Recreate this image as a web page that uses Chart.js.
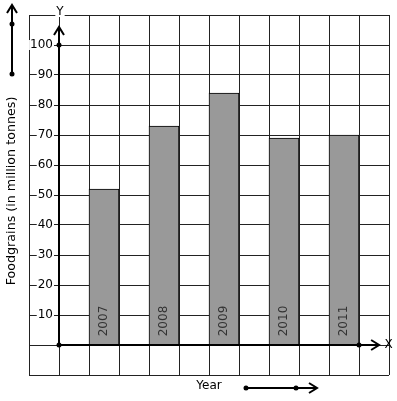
<html>
<head>
	<meta charset="utf-8">
	<script src="https://cdn.jsdelivr.net/npm/chart.js@4/dist/chart.umd.min.js"></script>
	<title>Foodgrains</title>
	<style>
		body { margin: 0; background: #fff; }
		canvas { display: block; }
	</style>
</head>
<body>
	<canvas id="chart" width="397" height="401"></canvas>
	<script>
		// values
		const years = ['2007', '2008', '2009', '2010', '2011'];
		const foodgrains = [52, 73, 84, 69, 70];
		const yTickLabels = [10, 20, 30, 40, 50, 60, 70, 80, 90, 100];

		const FONT = '"DejaVu Sans", sans-serif';

		// each year sits in every other grid column, starting one column right of the Y axis
		const points = years.map((yr, i) => ({ x: 1.5 + 2 * i, y: foodgrains[i] }));

		function arrowHead(ctx, tipX, tipY, dir) {
			ctx.beginPath();
			if (dir === 'up') {
				ctx.moveTo(tipX - 5, tipY + 8); ctx.lineTo(tipX, tipY); ctx.lineTo(tipX + 5, tipY + 8);
			} else {
				ctx.moveTo(tipX - 8, tipY - 5); ctx.lineTo(tipX, tipY); ctx.lineTo(tipX - 8, tipY + 5);
			}
			ctx.stroke();
		}
		function dot(ctx, x, y) {
			ctx.beginPath();
			ctx.arc(x, y, 2.5, 0, Math.PI * 2);
			ctx.fill();
		}
		function labelWithBg(ctx, text, x, y, align) {
			ctx.textAlign = align;
			ctx.textBaseline = 'middle';
			const w = ctx.measureText(text).width;
			const left = align === 'right' ? x - w : (align === 'center' ? x - w / 2 : x);
			ctx.fillStyle = '#fff';
			ctx.fillRect(left - 1, y - 5, w + 2, 10);
			ctx.fillStyle = '#000';
			ctx.fillText(text, x, y);
		}

		const decorations = {
			id: 'decorations',
			afterDatasetsDraw(chart) {
				const ctx = chart.ctx;
				const xs = chart.scales.x, ys = chart.scales.y;
				const ox = xs.getPixelForValue(0), oy = ys.getPixelForValue(0);
				ctx.save();
				ctx.strokeStyle = '#000';
				ctx.fillStyle = '#000';
				ctx.lineWidth = 2;

				// Y axis with arrow
				const yTop = ys.getPixelForValue(106);
				ctx.beginPath(); ctx.moveTo(ox, oy); ctx.lineTo(ox, yTop); ctx.stroke();
				arrowHead(ctx, ox, yTop, 'up');
				// X axis with arrow
				const xEnd = xs.getPixelForValue(10.67);
				ctx.beginPath(); ctx.moveTo(ox, oy); ctx.lineTo(xEnd, oy); ctx.stroke();
				arrowHead(ctx, xEnd, oy, 'right');
				dot(ctx, ox, oy);
				dot(ctx, ox, ys.getPixelForValue(100));
				dot(ctx, xs.getPixelForValue(10), oy);

				// y tick labels
				ctx.font = '12px ' + FONT;
				yTickLabels.forEach(v => labelWithBg(ctx, String(v), ox - 6, ys.getPixelForValue(v), 'right'));

				// axis letters
				labelWithBg(ctx, 'Y', ox + 1, ys.getPixelForValue(111), 'center');
				ctx.fillStyle = '#000';
				ctx.textAlign = 'left';
				ctx.fillText('X', xs.getPixelForValue(10.85), oy);

				// year labels inside bars
				ctx.fillStyle = '#333';
				ctx.textAlign = 'center';
				ctx.textBaseline = 'middle';
				points.forEach((p, i) => {
					ctx.save();
					ctx.translate(xs.getPixelForValue(p.x), ys.getPixelForValue(8));
					ctx.rotate(-Math.PI / 2);
					ctx.fillText(years[i], 0, 0);
					ctx.restore();
				});

				// titles
				ctx.fillStyle = '#000';
				ctx.save();
				ctx.font = '12.7px ' + FONT;
				ctx.translate(12, 191);
				ctx.rotate(-Math.PI / 2);
				ctx.fillText('Foodgrains (in million tonnes)', 0, 0);
				ctx.restore();
				ctx.fillText('Year', 209, 386);

				// direction arrows
				ctx.beginPath(); ctx.moveTo(12, 74); ctx.lineTo(12, 6); ctx.stroke();
				arrowHead(ctx, 12, 5, 'up');
				dot(ctx, 12, 24); dot(ctx, 12, 74);
				ctx.beginPath(); ctx.moveTo(246, 388); ctx.lineTo(316, 388); ctx.stroke();
				arrowHead(ctx, 317, 388, 'right');
				dot(ctx, 246, 388); dot(ctx, 296, 388);

				ctx.restore();
			}
		};

		new Chart(document.getElementById('chart'), {
			type: 'bar',
			data: {
				datasets: [{
					data: points,
					backgroundColor: '#999999',
					borderColor: '#000',
					borderWidth: 1,
					barPercentage: 1,
					categoryPercentage: 1
				}]
			},
			options: {
				responsive: false,
				animation: false,
				devicePixelRatio: 1,
				layout: { padding: { left: 29, right: 8, top: 15, bottom: 26 } },
				plugins: { legend: { display: false }, tooltip: { enabled: false } },
				scales: {
					x: {
						type: 'linear', min: -1, max: 11, offset: false,
						ticks: { display: false, stepSize: 1 },
						grid: { color: '#222', lineWidth: 1, drawTicks: false, offset: false },
						border: { display: false }
					},
					y: {
						min: -10, max: 110,
						ticks: { display: false, stepSize: 10 },
						grid: { color: '#222', lineWidth: 1, drawTicks: false },
						border: { display: false }
					}
				}
			},
			plugins: [decorations]
		});
	</script>
</body>
</html>
